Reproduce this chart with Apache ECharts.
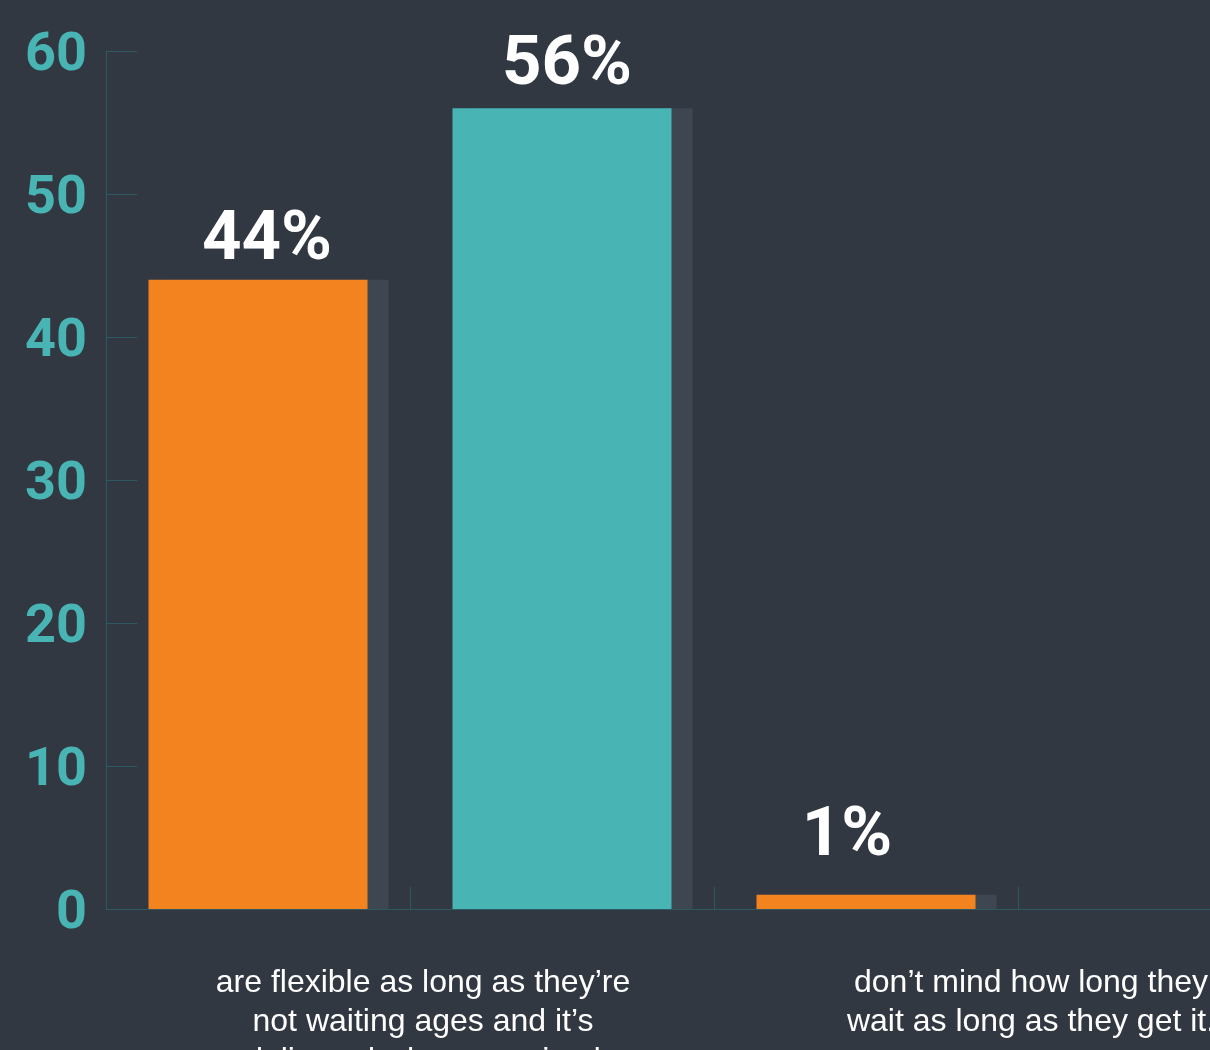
<!DOCTYPE html>
<html>
<head>
<meta charset="utf-8">
<script src="https://cdn.jsdelivr.net/npm/echarts@6/dist/echarts.min.js"></script>
<style>
html,body{margin:0;padding:0;background:#323842;}
#chart{width:1210px;height:1050px;}
</style>
</head>
<body>
<div id="chart"></div>
<script>
const categories = [
  "are flexible as long as they\u2019re\nnot waiting ages and it\u2019s\ndelivered when promised",
  "",
  "don\u2019t mind how long they\nwait as long as they get it.",
  ""
];
const values = [44, 56, 1, 0];
const yTicks = [0, 10, 20, 30, 40, 50, 60];

const barColors = ['#f3831f', '#48b4b4', '#f3831f', '#48b4b4'];
const labelOffsets = [[9, 1], [5, -2], [-19, -17], [0, 0]];

const chart = echarts.init(document.getElementById('chart'));
const data = values.map((v, i) => ({
  value: v,
  itemStyle: { color: barColors[i] },
  label: { show: v > 0, offset: labelOffsets[i] }
}));

chart.setOption({
  backgroundColor: '#323842',
  animation: false,
  grid: { left: 106, top: 51, height: 858, width: 1216, outerBoundsMode: 'none', containLabel: false },
  xAxis: {
    type: 'category',
    data: categories,
    axisLine: { show: true, lineStyle: { color: '#2d5a62', width: 1 } },
    axisTick: { show: true, inside: true, length: 22, lineStyle: { color: '#2d5a62' } },
    axisLabel: {
      interval: 0,
      color: '#ffffff',
      fontFamily: 'Liberation Sans, Arial, sans-serif',
      fontSize: 32,
      lineHeight: 39,
      margin: 55,
      padding: [0, 0, 0, 330]
    },
    splitLine: { show: false }
  },
  yAxis: {
    type: 'value',
    min: yTicks[0],
    max: yTicks[yTicks.length - 1],
    interval: 10,
    axisLine: { show: true, lineStyle: { color: '#2d5a62', width: 1 } },
    axisTick: { show: true, inside: true, length: 31, lineStyle: { color: '#2d5a62' } },
    axisLabel: {
      color: '#48b4b4',
      fontFamily: 'Roboto, sans-serif',
      fontWeight: 'bold',
      fontSize: 54,
      margin: 19,
      verticalAlign: 'top',
      lineHeight: 10
    },
    splitLine: { show: false }
  },
  series: [{
    type: 'bar',
    data: data,
    barWidth: 219,
    itemStyle: {
      shadowColor: '#3d4651',
      shadowOffsetX: 21,
      shadowOffsetY: 0,
      shadowBlur: 0
    },
    label: {
      show: true,
      position: 'top',
      distance: 5,
      formatter: '{c}%',
      color: '#ffffff',
      fontFamily: 'Roboto, sans-serif',
      fontWeight: 'bold',
      fontSize: 69
    }
  }]
});
</script>
</body>
</html>
